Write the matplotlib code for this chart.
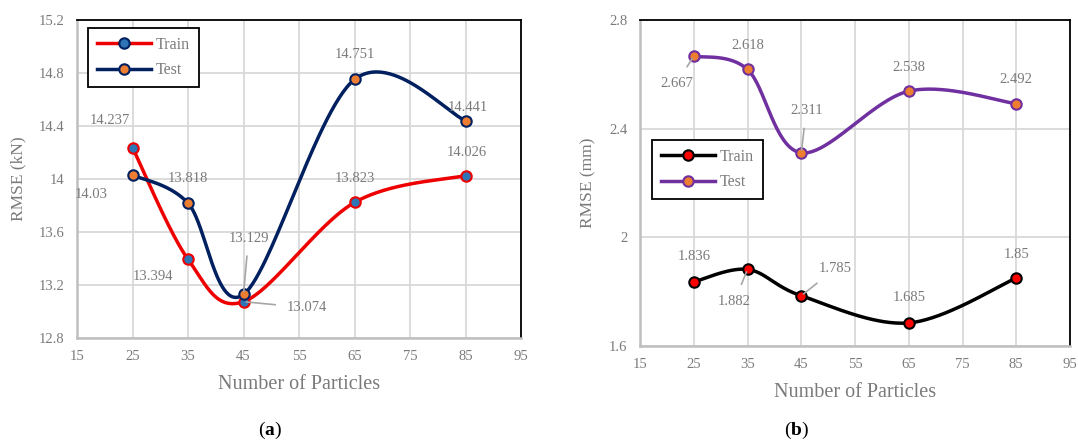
import numpy as np
import matplotlib
matplotlib.use("Agg")
import matplotlib.pyplot as plt
from matplotlib.lines import Line2D

plt.rcParams['font.family'] = ['Liberation Serif', 'DejaVu Serif']
plt.rcParams['mathtext.fontset'] = 'custom'
plt.rcParams['mathtext.rm'] = 'Liberation Serif'
plt.rcParams['mathtext.bf'] = 'Liberation Serif:bold'

# ---------------- data ----------------
particles = [25, 35, 45, 65, 85]
kn_train = [14.237, 13.394, 13.074, 13.823, 14.026]
kn_test = [14.03, 13.818, 13.129, 14.751, 14.441]
mm_train = [1.836, 1.882, 1.785, 1.685, 1.85]
mm_test = [2.667, 2.618, 2.311, 2.538, 2.492]
x_ticks = [15, 25, 35, 45, 55, 65, 75, 85, 95]
kn_ticks = [12.8, 13.2, 13.6, 14, 14.4, 14.8, 15.2]
mm_ticks = [1.6, 2, 2.4, 2.8]
kn_tick_labels = ['12.8', '13.2', '13.6', '14', '14.4', '14.8', '15.2']
mm_tick_labels = ['1.6', '2', '2.4', '2.8']

GREY = '#7a7a7a'


def smooth(xs, ys, n=60):
    """Excel-like smoothed line (Catmull-Rom Bezier)."""
    P = np.column_stack([xs, ys]).astype(float)
    m = len(P)
    outx, outy = [], []
    for i in range(m - 1):
        p0 = P[i - 1] if i > 0 else P[i]
        p1 = P[i]
        p2 = P[i + 1]
        p3 = P[i + 2] if i + 2 < m else P[i + 1]
        c1 = p1 + (p2 - p0) / 6.0
        c2 = p2 - (p3 - p1) / 6.0
        t = np.linspace(0, 1, n)[:, None]
        b = ((1 - t) ** 3) * p1 + 3 * ((1 - t) ** 2) * t * c1 + 3 * (1 - t) * t ** 2 * c2 + t ** 3 * p2
        outx.extend(b[:, 0]); outy.extend(b[:, 1])
    return np.array(outx), np.array(outy)


def style_axes(ax, ylim, yticks, ylabels, ylabel):
    ax.set_xlim(15, 95)
    ax.set_ylim(*ylim)
    ax.set_xticks(x_ticks)
    ax.set_xticklabels([str(v) for v in x_ticks])
    ax.set_yticks(yticks)
    ax.set_yticklabels(ylabels)
    ax.grid(True, color='#d9d9d9', linewidth=1.3)
    ax.set_axisbelow(True)
    ax.tick_params(length=0, labelsize=10.5, labelcolor=GREY, pad=9)
    for s in ['left', 'bottom']:
        ax.spines[s].set_color('#bfbfbf')
        ax.spines[s].set_linewidth(1.8)
    for s in ['top', 'right']:
        ax.spines[s].set_color('black')
        ax.spines[s].set_linewidth(1.3)
    ax.set_xlabel('Number of Particles', fontsize=14.5, color=GREY, labelpad=8)
    ax.set_ylabel(ylabel, fontsize=12.5, color=GREY, labelpad=9)


def series(ax, ys, lc, mfc, mec):
    sx, sy = smooth(particles, ys)
    ax.plot(sx, sy, color=lc, lw=2.5, solid_capstyle='round', zorder=3)
    ax.plot(particles, ys, ls='none', marker='o', ms=7.5, mfc=mfc, mec=mec, mew=1.5, zorder=4)


def labels(ax, ys, offsets, leaders):
    for x, y, off, ld in zip(particles, ys, offsets, leaders):
        ap = dict(arrowstyle='-', color='#a6a6a6', lw=1.2, shrinkA=6, shrinkB=2) if ld else None
        ax.annotate(f'{y:g}', xy=(x, y), xytext=off, textcoords='offset pixels',
                    ha='center', va='center', fontsize=10.5, color=GREY,
                    arrowprops=ap, zorder=5)


def legend(ax, lc1, mfc1, mec1, lc2, mfc2, mec2, anchor):
    h = [Line2D([], [], color=lc1, lw=2.5, marker='o', ms=7.5, mfc=mfc1, mec=mec1, mew=1.5),
         Line2D([], [], color=lc2, lw=2.5, marker='o', ms=7.5, mfc=mfc2, mec=mec2, mew=1.5)]
    lg = ax.legend(h, ['Train', 'Test'], loc='upper left', bbox_to_anchor=anchor, borderaxespad=0,
                   fancybox=False, framealpha=1, edgecolor='black', fontsize=11.5,
                   handlelength=3.4, labelspacing=0.6, borderpad=0.55, handletextpad=0.3)
    lg.get_frame().set_linewidth(1.3)
    for t in lg.get_texts():
        t.set_color(GREY)


fig = plt.figure(figsize=(10.78, 4.46), dpi=100)

# ---------------- (a) ----------------
ax1 = fig.add_axes([77 / 1078, 1 - 338 / 446, 444 / 1078, 318 / 446])
style_axes(ax1, (12.8, 15.2), kn_ticks, kn_tick_labels, 'RMSE (kN)')
series(ax1, kn_train, '#ee0000', '#2e75b6', '#ee0000')
series(ax1, kn_test, '#002060', '#ed7d31', '#002060')
labels(ax1, kn_train, [(-23, 27), (-35, -17), (63, -6), (0, 24), (1, 23)],
       [False, False, True, False, False])
labels(ax1, kn_test, [(-41, -19), (0, 25), (5, 56), (0, 25), (2, 13)],
       [False, False, True, False, False])
legend(ax1, '#ee0000', '#2e75b6', '#002060', '#002060', '#ed7d31', '#002060', (0.025, 0.975))

# ---------------- (b) ----------------
ax2 = fig.add_axes([640 / 1078, 1 - 346 / 446, 430 / 1078, 326 / 446])
style_axes(ax2, (1.6, 2.8), mm_ticks, mm_tick_labels, 'RMSE (mm)')
series(ax2, mm_train, 'black', '#ff0000', 'black')
series(ax2, mm_test, '#7030a0', '#ed7d31', '#7030a0')
labels(ax2, mm_train, [(0, 25), (-13, -32), (34, 27), (0, 25), (0, 24)],
       [False, True, True, False, False])
labels(ax2, mm_test, [(-17, -27), (0, 24), (5, 42), (0, 24), (0, 24)],
       [True, False, True, False, False])
legend(ax2, 'black', '#ff0000', 'black', '#7030a0', '#ed7d31', '#7030a0', (0.028, 0.632))

fig.text(270 / 1078, 1 - 430 / 446, r'($\mathbf{a}$)', ha='center', va='center', fontsize=14)
fig.text(797 / 1078, 1 - 430 / 446, r'($\mathbf{b}$)', ha='center', va='center', fontsize=14)

fig.savefig('out.png', dpi=100)
